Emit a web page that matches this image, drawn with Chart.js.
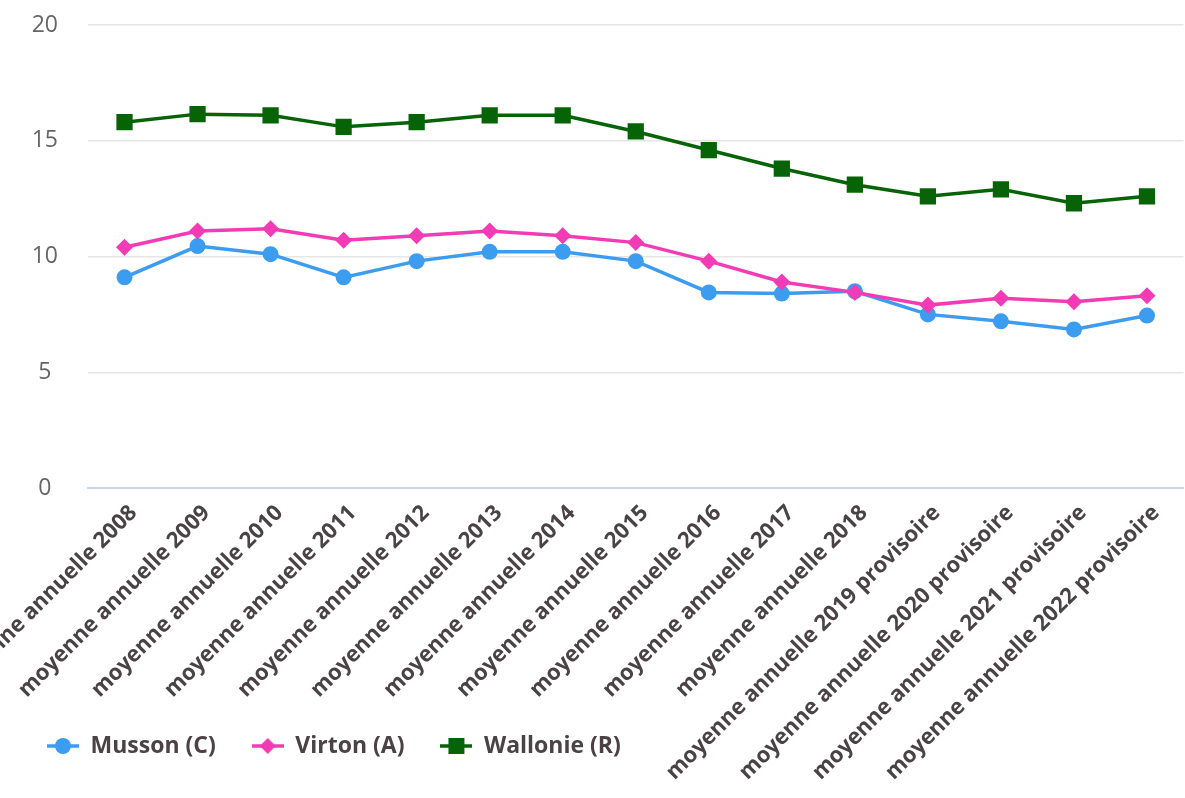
<!DOCTYPE html>
<html lang="fr">
<head>
    <meta charset="UTF-8">
    <title>Moyennes annuelles</title>
    <script src="https://cdn.jsdelivr.net/npm/chart.js"></script>
</head>
<style>
    body { margin: 0; overflow: hidden; background: #fff; }
    .chart-container { position: absolute; left: 0; top: 0; width: 1195px; height: 798px; }
</style>
<body>
    <div class="chart-container">
        <canvas id="lineChart"></canvas>
    </div>

    <script>
        // données
        const labels = [
            'moyenne annuelle 2008', 'moyenne annuelle 2009', 'moyenne annuelle 2010',
            'moyenne annuelle 2011', 'moyenne annuelle 2012', 'moyenne annuelle 2013',
            'moyenne annuelle 2014', 'moyenne annuelle 2015', 'moyenne annuelle 2016',
            'moyenne annuelle 2017', 'moyenne annuelle 2018',
            'moyenne annuelle 2019 provisoire', 'moyenne annuelle 2020 provisoire',
            'moyenne annuelle 2021 provisoire', 'moyenne annuelle 2022 provisoire'
        ];
        const musson = [9.1, 10.45, 10.1, 9.1, 9.8, 10.2, 10.2, 9.8, 8.45, 8.4, 8.5, 7.5, 7.2, 6.85, 7.45];
        const virton = [10.4, 11.1, 11.2, 10.7, 10.9, 11.1, 10.9, 10.6, 9.8, 8.9, 8.45, 7.9, 8.2, 8.05, 8.3];
        const wallonie = [15.8, 16.15, 16.1, 15.6, 15.8, 16.1, 16.1, 15.4, 14.6, 13.8, 13.1, 12.6, 12.9, 12.3, 12.6];
        const yTicks = [0, 5, 10, 15, 20];

        const BLUE = '#3c9cf0';
        const PINK = '#f23bb5';
        const GREEN = '#066306';
        const LABEL_COLOR = '#4a4244';

        Chart.defaults.font.family = "'Open Sans', sans-serif";

        // petit symbole de légende : trait + marqueur
        function legendSymbol(color, shape) {
            const c = document.createElement('canvas');
            c.width = 32;
            c.height = 20;
            const g = c.getContext('2d');
            g.strokeStyle = color;
            g.fillStyle = color;
            g.lineWidth = 3.5;
            g.beginPath();
            g.moveTo(0, 10);
            g.lineTo(32, 10);
            g.stroke();
            g.beginPath();
            if (shape === 'circle') {
                g.arc(16, 10, 8, 0, Math.PI * 2);
            } else if (shape === 'diamond') {
                g.moveTo(16, 2); g.lineTo(24, 10); g.lineTo(16, 18); g.lineTo(8, 10);
                g.closePath();
            } else {
                g.rect(8, 2, 16, 16);
            }
            g.fill();
            return c;
        }

        // les étiquettes de l'axe x débordent sous la légende (comme sur l'original)
        const extendXLabels = {
            id: 'extendXLabels',
            afterLayout(chart) {
                const x = chart.scales.x;
                x.bottom = chart.height;
            }
        };

        const ctx = document.getElementById('lineChart').getContext('2d');
        new Chart(ctx, {
            type: 'line',
            plugins: [extendXLabels],
            data: {
                labels: labels,
                datasets: [
                    {
                        label: 'Musson (C)', data: musson, order: 3,
                        borderColor: BLUE, backgroundColor: BLUE, borderWidth: 3.5,
                        pointStyle: 'circle', pointRadius: 8, pointBorderWidth: 0,
                        tension: 0
                    },
                    {
                        label: 'Virton (A)', data: virton, order: 2,
                        borderColor: PINK, backgroundColor: PINK, borderWidth: 3.5,
                        pointStyle: 'rectRot', pointRadius: 8.5, pointBorderWidth: 0,
                        tension: 0
                    },
                    {
                        label: 'Wallonie (R)', data: wallonie, order: 1,
                        borderColor: GREEN, backgroundColor: GREEN, borderWidth: 3.5,
                        pointStyle: 'rect', pointRadius: 11.5, pointBorderWidth: 0,
                        tension: 0
                    }
                ]
            },
            options: {
                responsive: true,
                maintainAspectRatio: false,
                animation: false,
                layout: { padding: { top: 25, left: 11, right: 0, bottom: 30.5 } },
                plugins: {
                    tooltip: { enabled: false },
                    legend: {
                        position: 'bottom',
                        align: 'start',
                        labels: {
                            usePointStyle: true,
                            pointStyleWidth: 32,
                            padding: 36,
                            color: LABEL_COLOR,
                            font: { size: 23, weight: 'bold' },
                            sort: (a, b) => a.datasetIndex - b.datasetIndex,
                            generateLabels: (chart) => {
                                const shapes = ['circle', 'diamond', 'square'];
                                return chart.data.datasets.map((ds, i) => ({
                                    text: ds.label,
                                    datasetIndex: i,
                                    fontColor: LABEL_COLOR,
                                    pointStyle: legendSymbol(ds.borderColor, shapes[i]),
                                    fillStyle: ds.borderColor,
                                    strokeStyle: ds.borderColor,
                                    lineWidth: 0,
                                    hidden: false
                                }));
                            }
                        }
                    }
                },
                scales: {
                    x: {
                        offset: true,
                        grid: { display: false, drawTicks: false },
                        border: { color: '#ccd6e4', width: 2 },
                        ticks: {
                            autoSkip: false,
                            minRotation: 45,
                            maxRotation: 45,
                            padding: 12,
                            labelOffset: 9,
                            color: LABEL_COLOR,
                            font: { size: 22, weight: 'bold' }
                        },
                        afterFit: (scale) => {
                            scale.height = 210.5;
                            scale.paddingLeft = 0;
                            scale.paddingRight = 0;
                        }
                    },
                    y: {
                        min: 0,
                        max: 20,
                        afterBuildTicks: (scale) => {
                            scale.ticks = yTicks.map(v => ({ value: v }));
                        },
                        grid: { color: '#e6e6e6', lineWidth: 1.5, drawTicks: false },
                        border: { display: false },
                        ticks: {
                            crossAlign: 'center',
                            padding: 30,
                            color: '#666666',
                            font: { size: 23 }
                        },
                        afterFit: (scale) => {
                            scale.width = 77;
                            scale.paddingTop = 0;
                            scale.paddingBottom = 0;
                        }
                    }
                }
            }
        });
    </script>
</body>
</html>
